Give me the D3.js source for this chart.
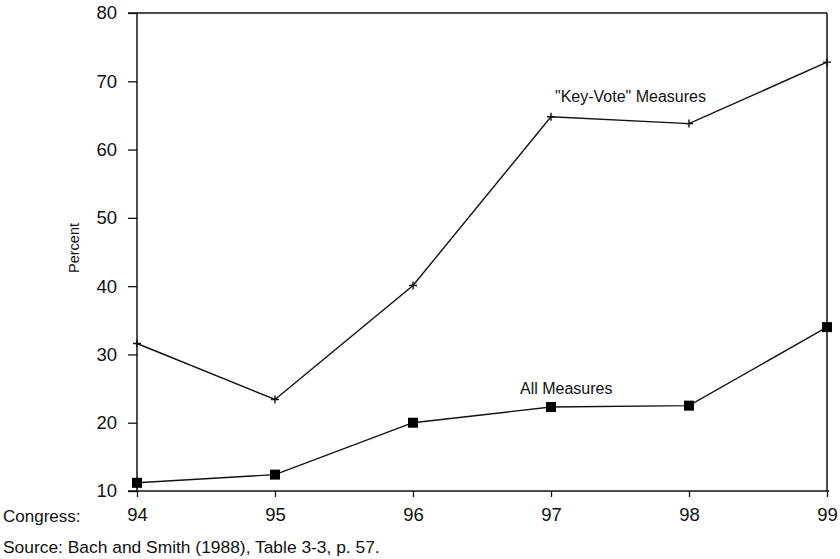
<!DOCTYPE html>
<html>
<head>
<meta charset="utf-8">
<script src="https://cdn.jsdelivr.net/npm/d3@7"></script>
<style>
  body { margin: 0; background: #fff; }
  text { font-family: "Liberation Sans", Arial, sans-serif; fill: #111; }
</style>
</head>
<body>
<div id="chart"></div>
<script>
let congresses  = [94, 95, 96, 97, 98, 99];
let keyVote     = [31.6, 23.4, 40.1, 64.8, 63.8, 72.8];
let allMeasures = [11.2, 12.4, 20.0, 22.3, 22.5, 34.0];
let yTicks      = [10, 20, 30, 40, 50, 60, 70, 80];

let W = 840, H = 559;
let plotL = 137, plotR = 827, plotT = 13, plotB = 491;

let svg = d3.select("#chart").append("svg")
    .attr("width", W)
    .attr("height", H);

let x = d3.scaleLinear().domain([94, 99]).range([plotL, plotR]);
let y = d3.scaleLinear().domain([10, 80]).range([plotB, plotT]);

// axes
let yAxis = svg.append("g")
    .attr("transform", "translate(" + plotL + ",0)")
    .call(d3.axisLeft(y).tickValues(yTicks).tickSize(9).tickPadding(11));
let xAxis = svg.append("g")
    .attr("transform", "translate(0," + plotB + ")")
    .call(d3.axisBottom(x).tickValues(congresses).tickSize(6).tickPadding(11).tickFormat(d3.format("d")));

[yAxis, xAxis].forEach(function(a){
    a.select(".domain").remove();
    a.selectAll("line").attr("stroke", "#111").attr("stroke-width", 1.3);
    a.selectAll("text").style("font-size", "18.5px").attr("fill", "#111");
});

// frame
svg.append("line").attr("x1", plotL - 9).attr("x2", plotR).attr("y1", plotT).attr("y2", plotT)
    .attr("stroke", "#111").attr("stroke-width", 1.5);
svg.append("line").attr("x1", plotL - 9).attr("x2", plotR + 2).attr("y1", plotB).attr("y2", plotB)
    .attr("stroke", "#111").attr("stroke-width", 1.5);
svg.append("line").attr("x1", plotL).attr("x2", plotL).attr("y1", plotT).attr("y2", plotB)
    .attr("stroke", "#111").attr("stroke-width", 1.5);
svg.append("line").attr("x1", plotR).attr("x2", plotR).attr("y1", plotT).attr("y2", plotB)
    .attr("stroke", "#111").attr("stroke-width", 1.5);

let line = d3.line()
    .x(function(d, i){ return x(congresses[i]); })
    .y(function(d){ return y(d); });

// key-vote series
svg.append("path").datum(keyVote)
    .attr("d", line)
    .attr("fill", "none")
    .attr("stroke", "#111")
    .attr("stroke-width", 1.4);
svg.append("g").selectAll("path")
    .data(keyVote)
    .enter()
        .append("path")
        .attr("d", function(d, i){
            let cx = x(congresses[i]), cy = y(d), s = 4;
            return "M" + (cx - s) + "," + cy + "H" + (cx + s) + "M" + cx + "," + (cy - s) + "V" + (cy + s);
        })
        .attr("stroke", "#111")
        .attr("stroke-width", 1.4);

// all measures series
svg.append("path").datum(allMeasures)
    .attr("d", line)
    .attr("fill", "none")
    .attr("stroke", "#111")
    .attr("stroke-width", 1.4);
svg.append("g").selectAll("rect")
    .data(allMeasures)
    .enter()
        .append("rect")
        .attr("x", function(d, i){ return x(congresses[i]) - 5; })
        .attr("y", function(d){ return y(d) - 5; })
        .attr("width", 10)
        .attr("height", 10)
        .attr("fill", "#000");

// labels
svg.append("text").attr("x", 555).attr("y", 102)
    .style("font-size", "16px").text("\"Key-Vote\" Measures");
svg.append("text").attr("x", 520).attr("y", 394)
    .style("font-size", "16px").text("All Measures");
svg.append("text")
    .attr("transform", "translate(79,248) rotate(-90)")
    .attr("text-anchor", "middle")
    .style("font-size", "14.5px").text("Percent");
svg.append("text").attr("x", 3).attr("y", 522)
    .style("font-size", "17px").text("Congress:");
svg.append("text").attr("x", 3).attr("y", 553)
    .style("font-size", "17.4px").text("Source: Bach and Smith (1988), Table 3-3, p. 57.");
</script>
</body>
</html>
